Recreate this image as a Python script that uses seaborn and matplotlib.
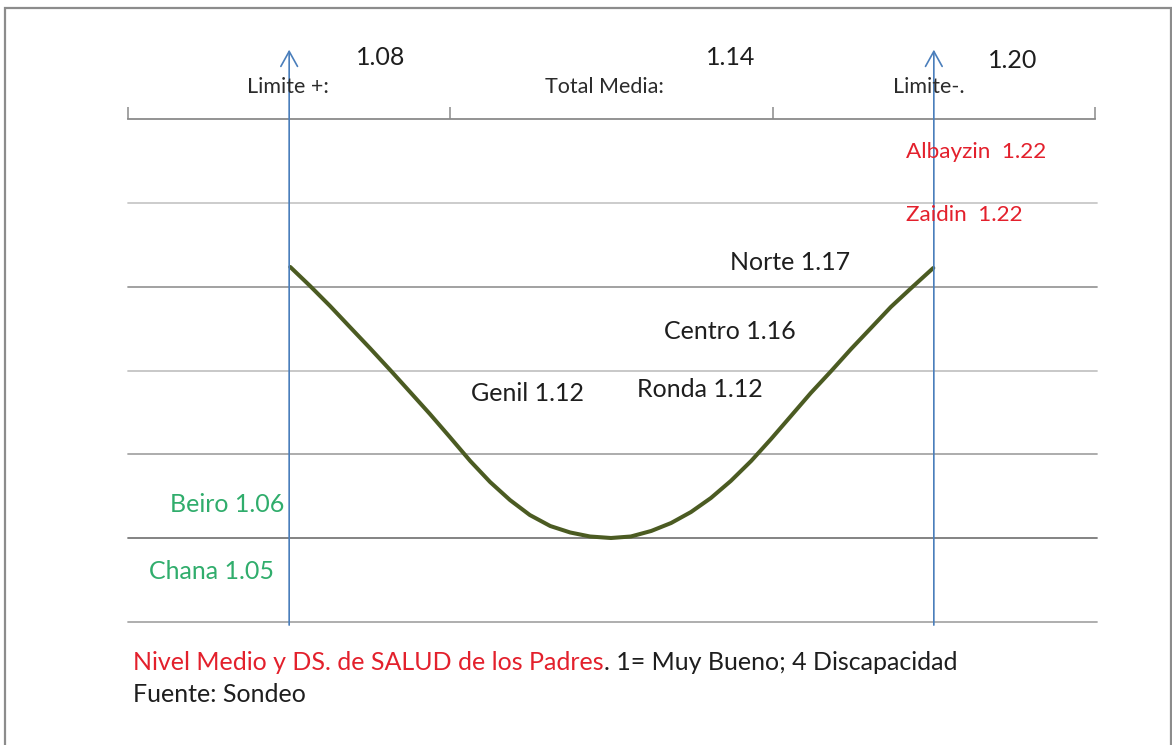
import matplotlib
matplotlib.use("Agg")
import matplotlib.pyplot as plt
import seaborn as sns
import pandas as pd
from matplotlib.patches import Rectangle

# curve (x = mean value, y = gridline units)
curve_x = [1.0802, 1.0839, 1.0876, 1.0913, 1.0950, 1.0988, 1.1025, 1.1062, 1.1099,
           1.1137, 1.1174, 1.1211, 1.1248, 1.1286, 1.1323, 1.1360, 1.1399,
           1.1436, 1.1474, 1.1511, 1.1548, 1.1585, 1.1622, 1.1660, 1.1697,
           1.1734, 1.1771, 1.1809, 1.1846, 1.1883, 1.1920, 1.1958, 1.1999]
curve_y = [4.235, 4.008, 3.770, 3.519, 3.269, 3.006, 2.744, 2.481, 2.207,
           1.921, 1.670, 1.455, 1.276, 1.145, 1.068, 1.020, 1.002,
           1.020, 1.086, 1.181, 1.312, 1.479, 1.682, 1.921, 2.183,
           2.457, 2.732, 2.994, 3.257, 3.507, 3.758, 3.984, 4.223]

limit_names = ["Limite +:", "Total Media:", "Limite-."]
limit_values = [1.08, 1.14, 1.20]

zone_names = ["Albayzin ", "Zaidin ", "Norte", "Centro", "Ronda", "Genil", "Beiro", "Chana"]
zone_values = [1.22, 1.22, 1.17, 1.16, 1.12, 1.12, 1.06, 1.05]
zone_groups = ["high", "high", "mid", "mid", "mid", "mid", "low", "low"]

x_ticks = [1.05, 1.11, 1.17, 1.23]
grid_levels = [0, 1, 2, 3, 4, 5]

RED = "#e3202c"
GREEN = "#30ad6c"
DARK = "#1e1e1e"
group_colors = {"high": RED, "mid": DARK, "low": GREEN}
group_sizes = {"high": 16.2, "mid": 18, "low": 18}

sns.set_theme(style="white")
plt.rcParams["font.family"] = ["Lato", "DejaVu Sans"]

fig = plt.figure(figsize=(11.72, 7.45), dpi=100)
ax = fig.add_axes([128 / 1172, 1 - 622 / 745, 967 / 1172, 503 / 745])
ax.set_xlim(1.05, 1.23)
ax.set_ylim(0, 6)

# frame round the picture
fig.add_artist(Rectangle((5 / 1172, -0.02), 1166 / 1172, 1.02 - 8 / 745,
                         transform=fig.transFigure, fill=False,
                         edgecolor="#8c8c8c", linewidth=1.6))

# horizontal lines
grid_colors = ["#a8a8a8", "#7a7a7a", "#a6a6a6", "#c4c4c4", "#9a9a9a", "#c8c8c8"]
for lvl, col in zip(grid_levels, grid_colors):
    ax.axhline(lvl, xmin=0, xmax=1.002, color=col, linewidth=1.3, clip_on=False)

# top axis with ticks
for s in ["left", "right", "bottom"]:
    ax.spines[s].set_visible(False)
ax.spines["top"].set_color("#8a8a8a")
ax.spines["top"].set_linewidth(1.3)
ax.xaxis.tick_top()
ax.set_xticks(x_ticks)
ax.set_xticklabels([])
ax.tick_params(axis="x", direction="out", length=9, width=1.1, color="#8a8a8a", top=True)
ax.set_yticks([])

# curve
df = pd.DataFrame({"x": curve_x, "y": curve_y})
sns.lineplot(data=df, x="x", y="y", sort=False, color="#4b5b22", linewidth=2.9,
             ax=ax, legend=False, solid_joinstyle="round", solid_capstyle="round")
ax.set_xlabel("")
ax.set_ylabel("")

# vertical arrows at the limits
for lx in [limit_values[0], limit_values[2]]:
    ax.annotate("", xy=(lx, 6.86), xytext=(lx, -0.07), xycoords="data",
                arrowprops=dict(arrowstyle="->,head_length=0.9,head_width=0.5",
                                color="#4a7ebb", linewidth=1.2),
                annotation_clip=False)

# limit labels and their values
name_pos = [(1.0722, 6.38), (1.1276, 6.38), (1.1924, 6.38)]
value_pos = [(1.0971, 6.73), (1.1622, 6.73), (1.2146, 6.70)]
for name, val, npos, vpos in zip(limit_names, limit_values, name_pos, value_pos):
    ax.text(npos[0], npos[1], name, ha="left", va="center", fontsize=15.5,
            color="#2b2b2b", clip_on=False)
    ax.text(vpos[0], vpos[1], f"{val:.2f}", ha="center", va="center", fontsize=18,
            color="#1e1e1e", clip_on=False)

# zone labels
zone_pos = [(1.1948, 5.61), (1.1948, 4.86), (1.1621, 4.29), (1.1498, 3.46),
            (1.1448, 2.77), (1.1139, 2.73), (1.0578, 1.40), (1.0539, 0.60)]
for name, val, grp, pos in zip(zone_names, zone_values, zone_groups, zone_pos):
    ax.text(pos[0], pos[1], f"{name} {val:.2f}", ha="left", va="center",
            fontsize=group_sizes[grp], color=group_colors[grp], clip_on=False)

# footer
t1 = fig.text(133 / 1172, 1 - 662 / 745, "Nivel Medio y DS. de SALUD de los Padres",
              ha="left", va="center", fontsize=18, color=RED)
ax.annotate(". 1= Muy Bueno; 4 Discapacidad", xy=(1, 0.5), xycoords=t1,
            ha="left", va="center", fontsize=18, color=DARK)
fig.text(133 / 1172, 1 - 695 / 745, "Fuente: Sondeo", ha="left", va="center",
         fontsize=18, color=DARK)

fig.savefig("out.png", dpi=100, facecolor="white")
